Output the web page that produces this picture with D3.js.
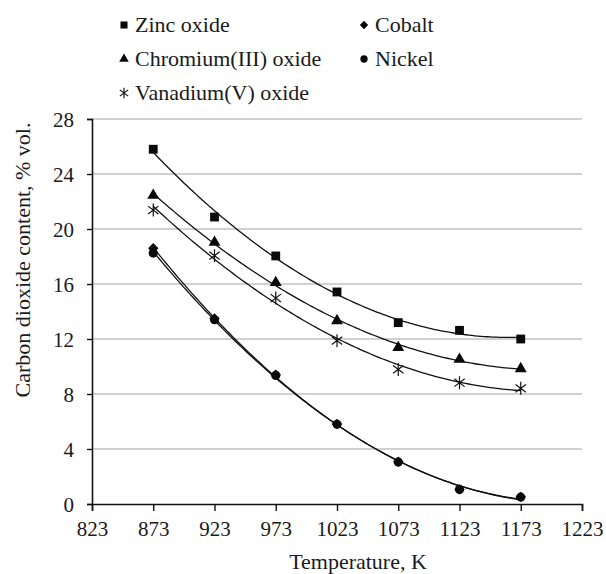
<!DOCTYPE html>
<html>
<head>
<meta charset="utf-8">
<script src="https://cdn.jsdelivr.net/npm/d3@7"></script>
<style>
  html, body { margin: 0; padding: 0; background: #fff; }
  svg { display: block; }
</style>
</head>
<body>
<svg id="chart" width="606" height="574"></svg>
<script>
// Temperatures (K) at which the CO2 content was measured
const temperatures = [873, 923, 973, 1023, 1073, 1123, 1173];

// Carbon dioxide content, % vol., for each catalyst
const zincOxide     = [25.8, 20.87, 18.04, 15.42, 13.19, 12.63, 12.0];
const chromiumOxide = [22.45, 19.03, 16.1, 13.33, 11.37, 10.52, 9.84];
const vanadiumOxide = [21.38, 18.06, 14.98, 11.88, 9.79, 8.82, 8.41];
const cobalt        = [18.6, 13.5, 9.4, 5.82, 3.08, 1.08, 0.52];
const nickel        = [18.25, 13.4, 9.35, 5.8, 3.05, 1.05, 0.5];

// Axis ticks
const xTicks = [823, 873, 923, 973, 1023, 1073, 1123, 1173, 1223];
const yTicks = [0, 4, 8, 12, 16, 20, 24, 28];

const SERIF = '"Liberation Serif", "Times New Roman", Times, serif';
const INK = "#1a1a1a";

const series = [
  { name: "Zinc oxide", values: zincOxide, marker: "square" },
  { name: "Chromium(III) oxide", values: chromiumOxide, marker: "triangle" },
  { name: "Vanadium(V) oxide", values: vanadiumOxide, marker: "asterisk" },
  { name: "Cobalt", values: cobalt, marker: "diamond" },
  { name: "Nickel", values: nickel, marker: "circle" }
];

const svg = d3.select("#chart");

const x = d3.scaleLinear().domain([823, 1223]).range([92, 582]);
const y = d3.scaleLinear().domain([0, 28]).range([504, 119]);

// Horizontal gridlines
svg.append("g")
  .selectAll("line")
  .data(yTicks.filter(v => v > 0))
  .join("line")
  .attr("x1", x(823)).attr("x2", x(1223))
  .attr("y1", d => y(d)).attr("y2", d => y(d))
  .attr("stroke", "#a3a3a3").attr("stroke-width", 1.2);

// Axes
const xAxis = svg.append("g")
  .attr("transform", `translate(0,${y(0)})`)
  .call(d3.axisBottom(x).tickValues(xTicks).tickFormat(d3.format("d")).tickSizeOuter(0).tickSize(7).tickPadding(10));
const yAxis = svg.append("g")
  .attr("transform", `translate(${x(823)},0)`)
  .call(d3.axisLeft(y).tickValues(yTicks).tickFormat(d3.format("d")).tickSizeOuter(0).tickSize(5).tickPadding(13));

[xAxis, yAxis].forEach(g => {
  g.attr("font-family", null).attr("font-size", null);
  g.select(".domain").attr("stroke", "#111").attr("stroke-width", 1.6);
  g.selectAll(".tick line").attr("stroke", "#111").attr("stroke-width", 1.4);
  g.selectAll(".tick text")
    .style("font-family", SERIF)
    .style("font-size", "21px")
    .attr("fill", INK);
});
xAxis.selectAll(".tick text").attr("dy", "0.71em");
yAxis.selectAll(".tick text").attr("dy", "0.34em");

// Axis titles
svg.append("text")
  .attr("x", 358).attr("y", 569)
  .attr("text-anchor", "middle")
  .style("font-family", SERIF).style("font-size", "22px")
  .attr("fill", INK)
  .text("Temperature, K");

svg.append("text")
  .attr("transform", "translate(30,260) rotate(-90)")
  .attr("text-anchor", "middle")
  .style("font-family", SERIF).style("font-size", "22px")
  .attr("fill", INK)
  .text("Carbon dioxide content, % vol.");

// Second-order polynomial trendline (least squares) for a series
function quadFit(xs, ys) {
  const mx = d3.mean(xs);
  const u = xs.map(v => (v - mx) / 100);
  const n = u.length;
  let s1 = 0, s2 = 0, s3 = 0, s4 = 0, t0 = 0, t1 = 0, t2 = 0;
  for (let i = 0; i < n; i++) {
    const a = u[i], b = ys[i];
    s1 += a; s2 += a * a; s3 += a * a * a; s4 += a * a * a * a;
    t0 += b; t1 += a * b; t2 += a * a * b;
  }
  const M = [[n, s1, s2], [s1, s2, s3], [s2, s3, s4]];
  const T = [t0, t1, t2];
  const det = m => m[0][0] * (m[1][1] * m[2][2] - m[1][2] * m[2][1])
                 - m[0][1] * (m[1][0] * m[2][2] - m[1][2] * m[2][0])
                 + m[0][2] * (m[1][0] * m[2][1] - m[1][1] * m[2][0]);
  const D = det(M);
  const coef = [0, 1, 2].map(k => {
    const Mk = M.map((row, r) => row.map((v, c) => (c === k ? T[r] : v)));
    return det(Mk) / D;
  });
  return xv => {
    const a = (xv - mx) / 100;
    return coef[0] + coef[1] * a + coef[2] * a * a;
  };
}

const line = d3.line().x(d => x(d[0])).y(d => y(d[1]));
const xMin = d3.min(temperatures), xMax = d3.max(temperatures);

const trendG = svg.append("g");
series.forEach(s => {
  const f = quadFit(temperatures, s.values);
  const pts = d3.range(0, 121).map(i => {
    const xv = xMin + (xMax - xMin) * i / 120;
    return [xv, f(xv)];
  });
  trendG.append("path")
    .attr("d", line(pts))
    .attr("fill", "none")
    .attr("stroke", "#111")
    .attr("stroke-width", 1.3);
});

// Marker drawing
function drawMarker(g, type, cx, cy, k) {
  if (type === "asterisk") {
    const r = 6.5 * k;
    const ang = Math.PI / 3.4;
    const dx = r * Math.sin(ang), dy = r * Math.cos(ang);
    const p = `M${cx},${cy - r}L${cx},${cy + r}` +
              `M${cx - dx},${cy - dy}L${cx + dx},${cy + dy}` +
              `M${cx - dx},${cy + dy}L${cx + dx},${cy - dy}`;
    g.append("path").attr("d", p).attr("stroke", "#111").attr("stroke-width", 1.2).attr("fill", "none");
    return;
  }
  if (type === "diamond") {
    const r = 5.2 * k;
    g.append("path")
      .attr("d", `M${cx},${cy - r}L${cx + r},${cy}L${cx},${cy + r}L${cx - r},${cy}Z`)
      .attr("fill", "#0a0a0a");
    return;
  }
  const sym = {
    square: [d3.symbolSquare, 78],
    triangle: [d3.symbolTriangle, 62],
    circle: [d3.symbolCircle, 66]
  }[type];
  g.append("path")
    .attr("transform", `translate(${cx},${cy})`)
    .attr("d", d3.symbol().type(sym[0]).size(sym[1] * k * k)())
    .attr("fill", "#0a0a0a");
}

const markG = svg.append("g");
series.forEach(s => {
  temperatures.forEach((t, i) => drawMarker(markG, s.marker, x(t), y(s.values[i]), 1));
});

// Legend
const legendItems = [
  { name: "Zinc oxide", marker: "square", col: 0, row: 0 },
  { name: "Cobalt", marker: "diamond", col: 1, row: 0 },
  { name: "Chromium(III) oxide", marker: "triangle", col: 0, row: 1 },
  { name: "Nickel", marker: "circle", col: 1, row: 1 },
  { name: "Vanadium(V) oxide", marker: "asterisk", col: 0, row: 2 }
];
const legendG = svg.append("g");
const colX = [124, 364];
legendItems.forEach(it => {
  const cy = 25 + it.row * 34;
  drawMarker(legendG, it.marker, colX[it.col], cy, 0.8);
  legendG.append("text")
    .attr("x", colX[it.col] + 11)
    .attr("y", cy + 7)
    .style("font-family", SERIF).style("font-size", "22px")
    .attr("fill", INK)
    .text(it.name);
});
</script>
</body>
</html>
